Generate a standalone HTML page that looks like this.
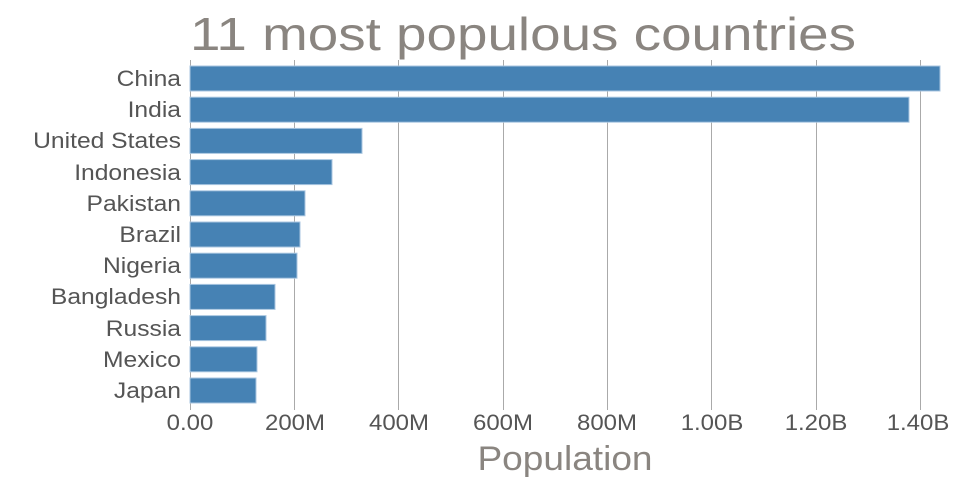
<!DOCTYPE html>
<html><head><meta charset="utf-8"><style>
html,body{margin:0;padding:0;background:#fff;}
svg{display:block;font-family:"Liberation Sans",sans-serif;}
</style></head><body>
<svg width="960" height="500" viewBox="0 0 960 500">
<text x="190" y="50" font-size="46" fill="#8a8580" textLength="666" lengthAdjust="spacingAndGlyphs">11 most populous countries</text>
<g stroke="#aaa" stroke-width="1">
<line x1="190.5" y1="60" x2="190.5" y2="410"/>
<line x1="294.5" y1="60" x2="294.5" y2="410"/>
<line x1="398.5" y1="60" x2="398.5" y2="410"/>
<line x1="503.5" y1="60" x2="503.5" y2="410"/>
<line x1="607.5" y1="60" x2="607.5" y2="410"/>
<line x1="711.5" y1="60" x2="711.5" y2="410"/>
<line x1="816.5" y1="60" x2="816.5" y2="410"/>
<line x1="920.5" y1="60" x2="920.5" y2="410"/>
</g>
<g fill="#4682b4" stroke="#a9c6e0" stroke-width="1">
<rect x="190" y="66" width="750" height="25"/>
<rect x="190" y="97.2" width="719" height="25"/>
<rect x="190" y="128.4" width="172" height="25"/>
<rect x="190" y="159.6" width="142" height="25"/>
<rect x="190" y="190.8" width="115" height="25"/>
<rect x="190" y="222" width="110" height="25"/>
<rect x="190" y="253.2" width="107" height="25"/>
<rect x="190" y="284.4" width="85" height="25"/>
<rect x="190" y="315.6" width="76" height="25"/>
<rect x="190" y="346.8" width="67" height="25"/>
<rect x="190" y="378" width="66" height="25"/>
</g>
<g font-size="22" fill="#555" text-anchor="end" transform="translate(181,0) scale(1.12,1)">
<text x="0" y="86">China</text>
<text x="0" y="117">India</text>
<text x="0" y="148">United States</text>
<text x="0" y="180">Indonesia</text>
<text x="0" y="211">Pakistan</text>
<text x="0" y="242">Brazil</text>
<text x="0" y="273">Nigeria</text>
<text x="0" y="304">Bangladesh</text>
<text x="0" y="336">Russia</text>
<text x="0" y="367">Mexico</text>
<text x="0" y="398">Japan</text>
</g>
<g font-size="22" fill="#555" text-anchor="middle">
<text transform="translate(190,430) scale(1.09,1)">0.00</text>
<text transform="translate(295,430) scale(1.09,1)">200M</text>
<text transform="translate(399,430) scale(1.09,1)">400M</text>
<text transform="translate(503,430) scale(1.09,1)">600M</text>
<text transform="translate(607,430) scale(1.09,1)">800M</text>
<text transform="translate(712,430) scale(1.09,1)">1.00B</text>
<text transform="translate(816,430) scale(1.09,1)">1.20B</text>
<text transform="translate(918,430) scale(1.09,1)">1.40B</text>
</g>
<text transform="translate(565,470) scale(1.09,1)" font-size="34" fill="#8a8580" text-anchor="middle">Population</text>
</svg>
</body></html>
